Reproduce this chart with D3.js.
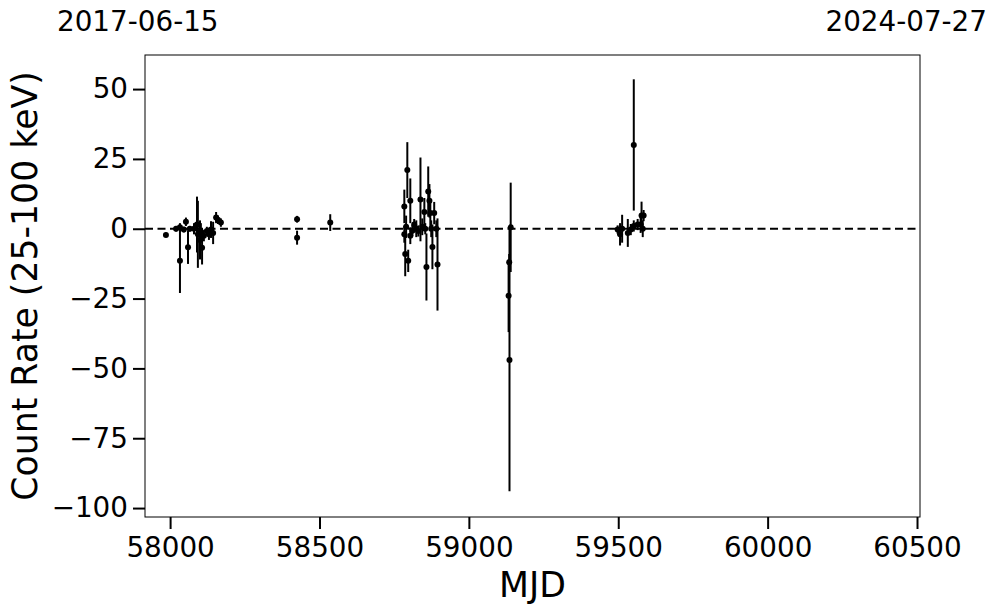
<!DOCTYPE html>
<html><head><meta charset="utf-8">
<script src="https://cdn.jsdelivr.net/npm/d3@7"></script>
<style>body{margin:0;background:#fff;} svg{display:block;font-family:"DejaVu Sans",sans-serif;}</style>
</head><body>
<svg id="c" width="997" height="613"></svg>
<script>
// Data: MJD, count rate, error
const mjd = [57986,58020,58033,58033,58046,58053,58060,58066,58080,58090,58093,58100,58107,58103,58113,58123,58130,58137,58144,58154,58160,58170,
  58425,58425,58536,
  58784,58784,58787,58794,58797,58804,58790,58804,58811,58817,58824,58831,58838,58844,58851,58854,58858,58864,58868,58871,58874,58878,58884,58891,58895,
  59133,59136,59140,59135,
  59498,59506,59513,59532,59542,59552,59552,59565,59575,59578,59582,59585];
const rate = [-2.2,0,0.5,-11.5,-0.3,2.5,-6.6,0,0,1.5,-2,-4,-6.8,-1,-2.5,-0.8,-2,-0.3,-1.5,4,3.2,2.2,
  3.4,-3.2,2.2,
  8,-2,-9,21,-11.5,10,0.7,-2.5,-0.7,1.5,0,-0.8,10.5,0.7,6,0,-13.7,13.3,10,5.6,0,-6.5,5.6,0,-12.8,
  -24,-47,0.5,-12,
  -0.3,-2,0,-1.5,-0.3,1,30,1.5,1.5,4.7,0,4.7];
const err = [0.8,1,1.5,11.5,1,1.5,6,1,2,10,12,7,6,3,2,1.5,2,3,4,2,1.5,1.5,
  1.2,2.5,3,
  6,3,8,10,4,8,4,3,2,2,3,2,15,3,5,2,12,9,6,5,3,8,4,3,16.5,
  13,47,16,3,
  1.5,4,5,5,2,2,23.5,2,3,5,3,2];
const xTicks = [58000,58500,59000,59500,60000,60500];
const yTicks = [-100,-75,-50,-25,0,25,50];
const dateLeft = "2017-06-15", dateRight = "2024-07-27";
const xDomain = [57916, 60510];
const yDomain = [-103.2, 62.2];

const svg = d3.select("#c");
const L=145,R=920,T=55,B=517;
const x = d3.scaleLinear().domain(xDomain).range([L,R]);
const y = d3.scaleLinear().domain(yDomain).range([B,T]);

// zero line
svg.append("line").attr("x1",L).attr("x2",R).attr("y1",y(0)).attr("y2",y(0))
  .attr("stroke","#000").attr("stroke-width",2).attr("stroke-dasharray","8,4.5");

const g = svg.append("g");
mjd.forEach((m,i)=>{
  g.append("line").attr("x1",x(m)).attr("x2",x(m)).attr("y1",y(rate[i]-err[i])).attr("y2",y(rate[i]+err[i]))
    .attr("stroke","#000").attr("stroke-width",2);
});
mjd.forEach((m,i)=>{
  g.append("circle").attr("cx",x(m)).attr("cy",y(rate[i])).attr("r",3).attr("fill","#000");
});

const fmt = d => d<0 ? "\u2212"+Math.abs(d) : String(d);
const xa = svg.append("g").attr("transform",`translate(0,${B})`)
  .call(d3.axisBottom(x).tickValues(xTicks).tickFormat(d=>String(d)).tickSize(12).tickPadding(8));
const ya = svg.append("g").attr("transform",`translate(${L},0)`)
  .call(d3.axisLeft(y).tickValues(yTicks).tickFormat(fmt).tickSize(12).tickPadding(5));
[xa,ya].forEach(a=>{
  a.select(".domain").remove();
  a.selectAll(".tick line").attr("stroke","#000").attr("stroke-width",2);
  a.selectAll(".tick text").attr("fill","#000").style("font-size","27.8px").style("font-family","DejaVu Sans");
});
svg.append("rect").attr("x",L).attr("y",T).attr("width",R-L).attr("height",B-T)
  .attr("fill","none").attr("stroke","#000").attr("stroke-width",1);

svg.append("text").attr("x",(L+R)/2).attr("y",597).attr("text-anchor","middle")
  .style("font-size","34.7px").text("MJD");
svg.append("text").attr("transform",`translate(37,${(T+B)/2}) rotate(-90)`).attr("text-anchor","middle")
  .style("font-size","34.7px").text("Count Rate (25-100 keV)");
svg.append("text").attr("x",57).attr("y",31).style("font-size","27.8px").text(dateLeft);
svg.append("text").attr("x",987).attr("y",31).attr("text-anchor","end").style("font-size","27.8px").text(dateRight);
</script>
</body></html>
